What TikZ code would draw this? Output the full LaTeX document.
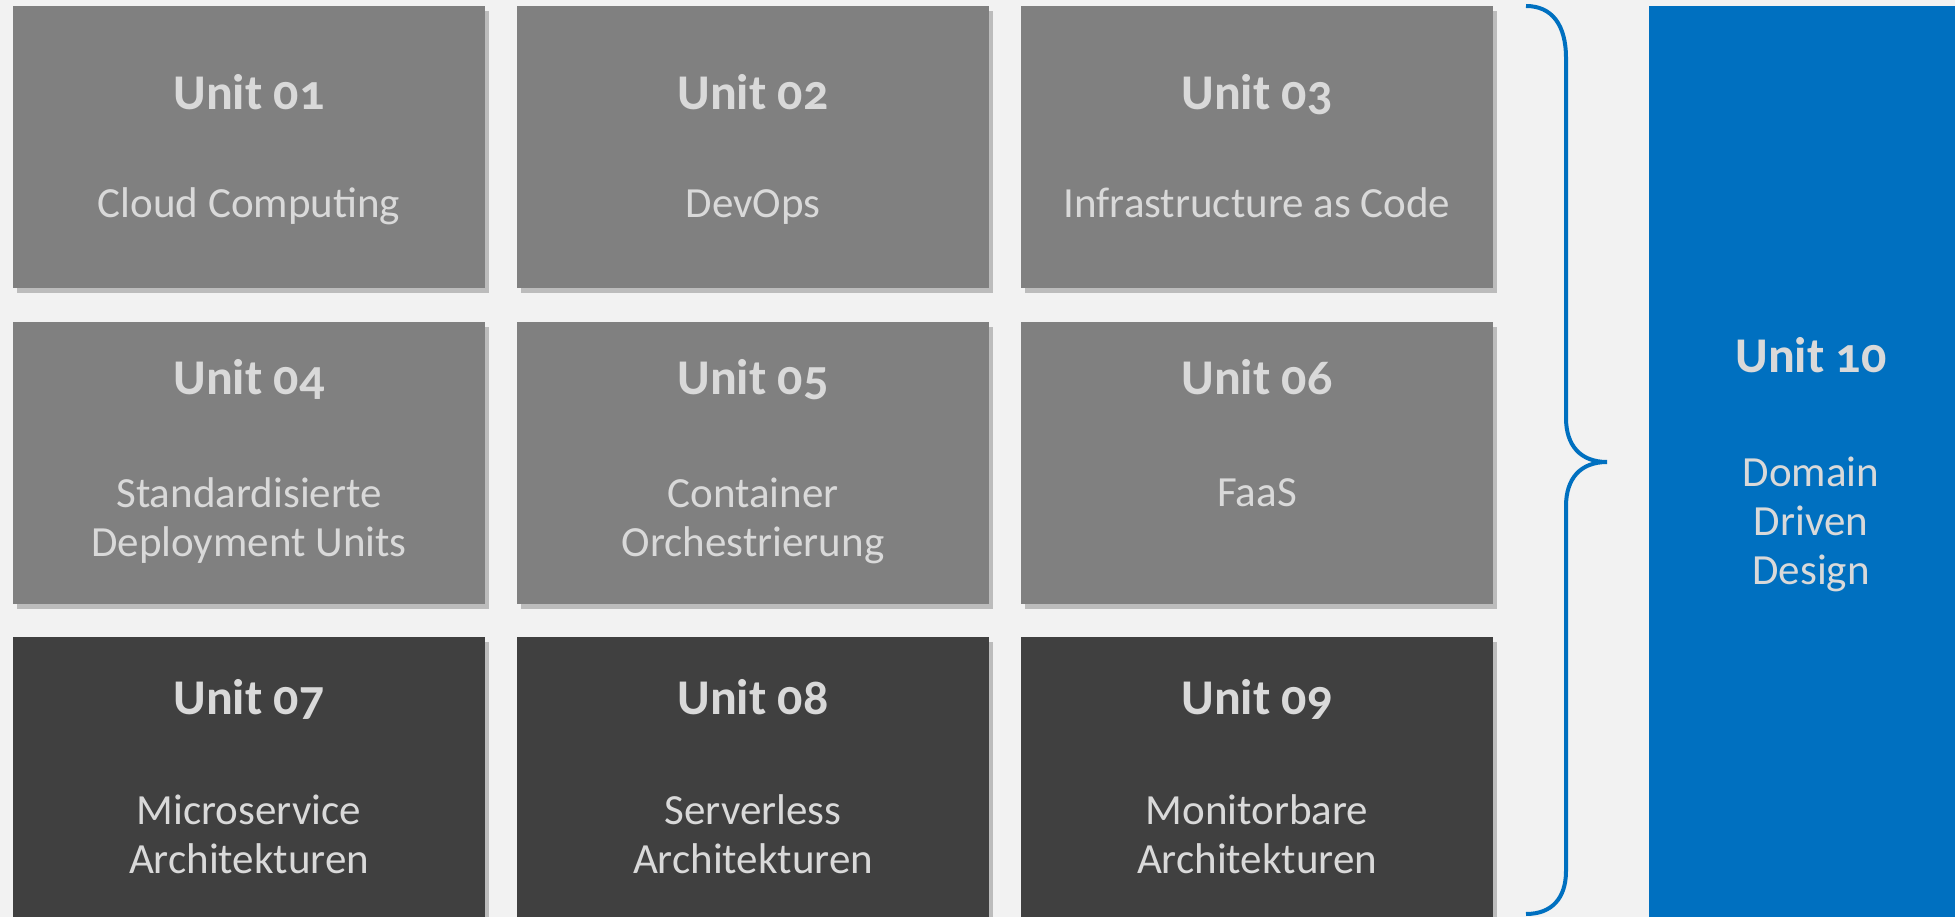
\documentclass[tikz,border=0pt]{standalone}
\usepackage{fontspec}
\setmainfont{Carlito}[Numbers=OldStyle]
\usepackage{xcolor}
\usetikzlibrary{shadows}
\definecolor{bggray}{HTML}{F2F2F2}
\definecolor{unitgray}{HTML}{808080}
\definecolor{unitdark}{HTML}{404040}
\definecolor{unitblue}{HTML}{0070C0}
\definecolor{unittext}{HTML}{D9D9D9}

\begin{document}
\begin{tikzpicture}[x=1pt,y=-1pt,
  unitbox/.style={fill=#1,anchor=north west,minimum width=472pt,minimum height=282pt,inner sep=0pt,
    drop shadow={shadow xshift=4pt,shadow yshift=-5pt,fill=black,opacity=0.22}},
  head/.style={anchor=base,text=unittext,inner sep=0pt,font=\fontsize{50}{60}\selectfont\bfseries},
  topic/.style={anchor=base,text=unittext,inner sep=0pt,align=center,font=\fontsize{43}{49}\selectfont}]
\useasboundingbox[fill=bggray] (0,0) rectangle (1955,917);

% row 1
\node [unitbox=unitgray] (u01) at (13,6) {};
\node [unitbox=unitgray] (u02) at (517,6) {};
\node [unitbox=unitgray] (u03) at (1021,6) {};
\node [head] (u01h) at (249,110) {Unit 01};
\node [head] (u02h) at (753,110) {Unit 02};
\node [head] (u03h) at (1257,110) {Unit 03};
\node [topic] (u01t) at (249,218) {Cloud Computing};
\node [topic] (u02t) at (753,218) {DevOps};
\node [topic] (u03t) at (1257,218) {Infrastructure as Code};

% row 2 (base = last line)
\node [unitbox=unitgray] (u04) at (13,322) {};
\node [unitbox=unitgray] (u05) at (517,322) {};
\node [unitbox=unitgray] (u06) at (1021,322) {};
\node [head] (u04h) at (249,395) {Unit 04};
\node [head] (u05h) at (753,395) {Unit 05};
\node [head] (u06h) at (1257,395) {Unit 06};
\node [topic] (u04t) at (249,556) {Standardisierte\\Deployment Units};
\node [topic] (u05t) at (753,556) {Container\\Orchestrierung};
\node [topic] (u06t) at (1257,506) {FaaS};

% row 3
\node [unitbox=unitdark] (u07) at (13,637) {};
\node [unitbox=unitdark] (u08) at (517,637) {};
\node [unitbox=unitdark] (u09) at (1021,637) {};
\node [head] (u07h) at (249,714) {Unit 07};
\node [head] (u08h) at (753,714) {Unit 08};
\node [head] (u09h) at (1257,714) {Unit 09};
\node [topic] (u07t) at (249,873) {Microservice\\Architekturen};
\node [topic] (u08t) at (753,873) {Serverless\\Architekturen};
\node [topic] (u09t) at (1257,873) {Monitorbare\\Architekturen};

% brace
\coordinate (brtop) at (1526,6);
\coordinate (brtip) at (1607,462);
\coordinate (brbot) at (1526,914);
\draw [unitblue,line width=4pt] (brtop) .. controls (1552,6) and (1566,25) .. (1566,58)
  -- (1566,418) .. controls (1566,445) and (1580,462) .. (brtip)
  .. controls (1580,462) and (1566,479) .. (1566,506)
  -- (1566,871) .. controls (1566,898) and (1552,914) .. (brbot);

% unit 10
\node [fill=unitblue,anchor=north west,minimum width=324pt,minimum height=914pt,inner sep=0pt] (u10) at (1649,6) {};
\node [head] (u10h) at (1811,372) {Unit 10};
\node [topic] (u10t) at (1811,584) {Domain\\Driven\\Design};
\end{tikzpicture}
\end{document}
